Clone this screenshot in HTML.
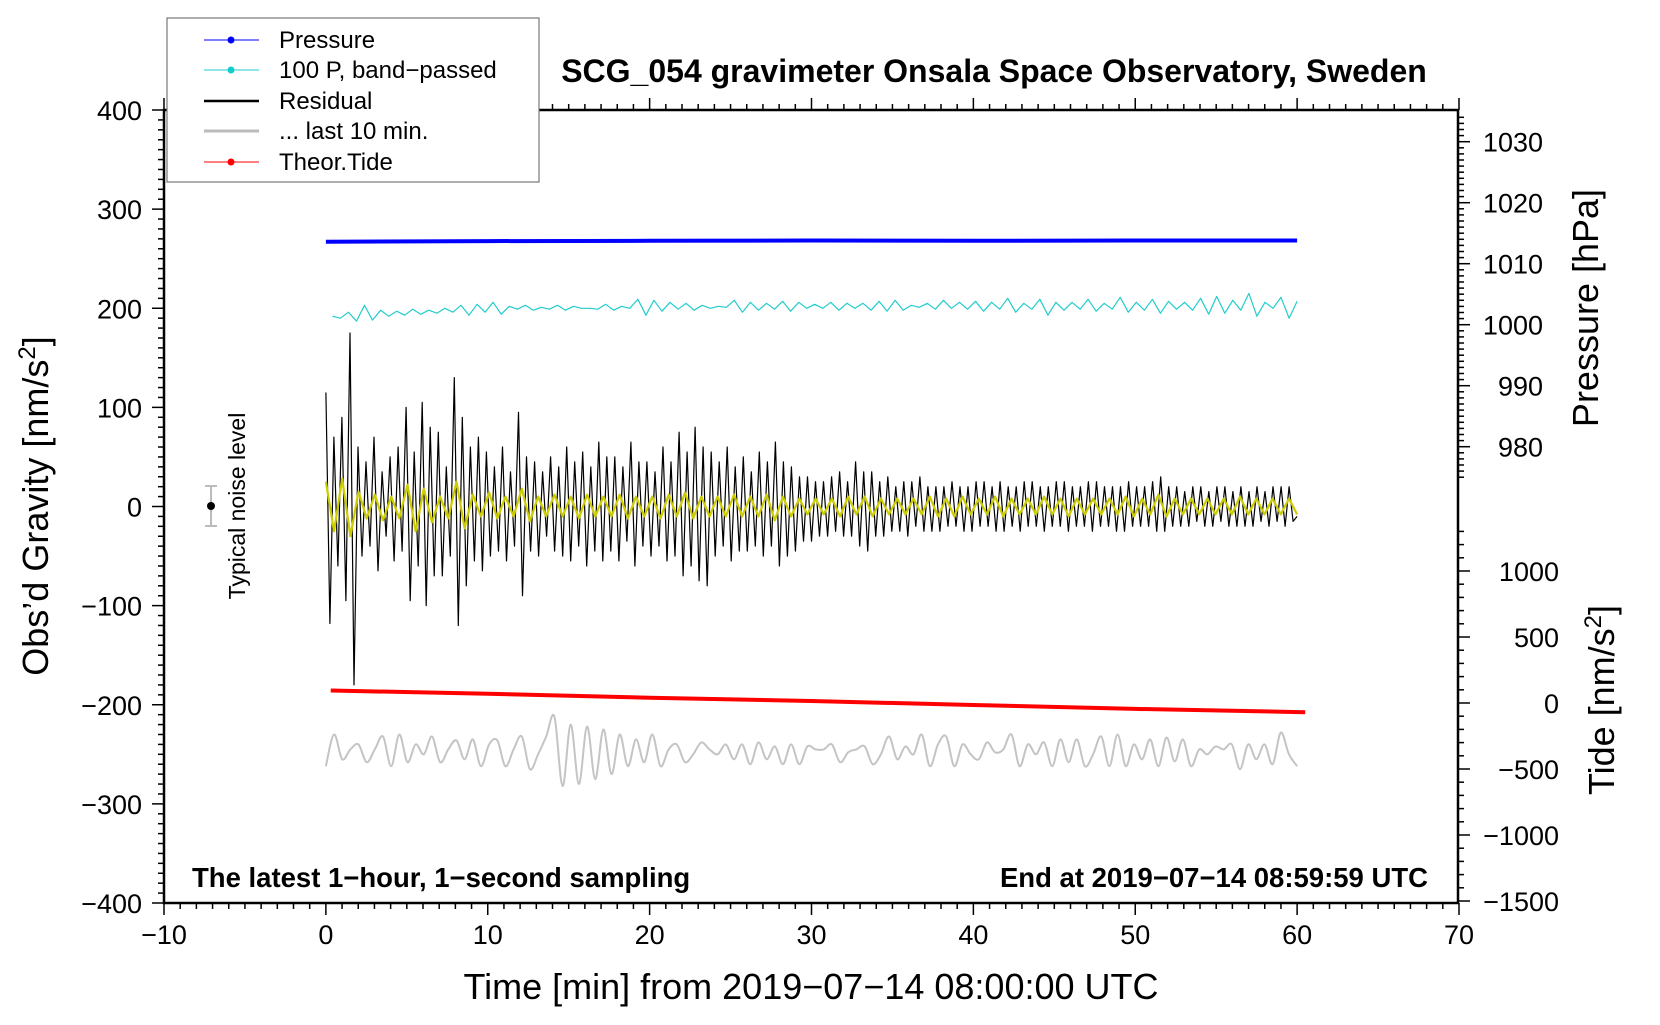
<!DOCTYPE html>
<html><head><meta charset="utf-8"><style>
html,body{margin:0;padding:0;background:#fff;}
svg text{font-family:"Liberation Sans",sans-serif;}
</style></head><body>
<svg id="chart" width="1660" height="1020" viewBox="0 0 1660 1020">
<g id="axes"></g>
<g id="series"></g>
<text x="994" y="82" font-size="32" font-weight="bold" text-anchor="middle">SCG_054 gravimeter Onsala Space Observatory, Sweden</text>
<text transform="translate(48,506) rotate(-90)" font-size="36" text-anchor="middle">Obs’d Gravity [nm/s<tspan dy="-13" font-size="24">2</tspan><tspan dy="13">]</tspan></text>
<text transform="translate(1598,308) rotate(-90)" font-size="36" text-anchor="middle">Pressure [hPa]</text>
<text transform="translate(1614,700) rotate(-90)" font-size="36" text-anchor="middle">Tide [nm/s<tspan dy="-13" font-size="24">2</tspan><tspan dy="13">]</tspan></text>
<text x="811" y="999" font-size="36" text-anchor="middle">Time [min] from 2019−07−14 08:00:00 UTC</text>
<text x="192" y="887" font-size="27.5" font-weight="bold">The latest 1−hour, 1−second sampling</text>
<text x="1428" y="887" font-size="27.5" font-weight="bold" text-anchor="end">End at 2019−07−14 08:59:59 UTC</text>
<g>
<line x1="211" y1="486" x2="211" y2="526" stroke="#bbb" stroke-width="2"/>
<line x1="205" y1="486" x2="217" y2="486" stroke="#bbb" stroke-width="2"/>
<line x1="205" y1="526" x2="217" y2="526" stroke="#bbb" stroke-width="2"/>
<circle cx="211" cy="506" r="4" fill="#000"/>
<text transform="translate(245,506) rotate(-90)" font-size="23" text-anchor="middle">Typical noise level</text>
</g>
<g>
<rect x="167" y="18" width="372" height="164" fill="#fff" stroke="#777" stroke-width="1.2"/>
<g><line x1="204" y1="40" x2="259" y2="40" stroke="#00f" stroke-width="1"/><circle cx="231" cy="40" r="3.5" fill="#00f"/><text x="279" y="48" font-size="24">Pressure</text></g>
<g><line x1="204" y1="70" x2="259" y2="70" stroke="#2cc" stroke-width="1"/><circle cx="231" cy="70" r="3.5" fill="#1cc"/><text x="279" y="78" font-size="24">100 P, band−passed</text></g>
<g><line x1="204" y1="101" x2="259" y2="101" stroke="#000" stroke-width="2.5"/><text x="279" y="109" font-size="24">Residual</text></g>
<g><line x1="204" y1="131" x2="259" y2="131" stroke="#bbb" stroke-width="3"/><text x="279" y="139" font-size="24">... last 10 min.</text></g>
<g><line x1="204" y1="162" x2="259" y2="162" stroke="#f00" stroke-width="1"/><circle cx="231" cy="162" r="3.5" fill="#f00"/><text x="279" y="170" font-size="24">Theor.Tide</text></g>
</g>
</svg>
<script>
// ---- data ----
const xTicks=[-10,0,10,20,30,40,50,60,70];
const yTicks=[400,300,200,100,0,-100,-200,-300,-400];
const pTicks=[1030,1020,1010,1000,990,980];
const tTicks=[1000,500,0,-500,-1000,-1500];
// residual: 4 samples per minute (nm/s^2)
const residual=[115,-118,70,-60,90,-95,175,-180,60,-50,45,-40,70,-65,35,-30,50,-55,60,-45,100,-95,55,-60,105,-100,80,-70,75,-70,40,-50,130,-120,90,-80,60,-55,70,-65,55,-50,40,-45,60,-55,35,-40,95,-90,50,-45,45,-50,35,-30,50,-45,40,-50,60,-55,45,-40,55,-60,40,-45,65,-55,50,-45,50,-55,40,-35,65,-60,45,-40,45,-50,35,-40,60,-55,45,-50,75,-70,55,-60,80,-75,60,-80,55,-50,45,-40,60,-55,40,-45,50,-45,35,-40,55,-50,45,-40,65,-60,45,-50,40,-45,30,-35,30,-35,25,-30,25,-30,30,-25,35,-30,25,-30,45,-40,35,-45,35,-30,25,-30,30,-25,20,-25,25,-30,25,-20,30,-25,20,-25,20,-25,20,-20,25,-20,20,-25,20,-25,25,-20,25,-20,20,-25,25,-25,20,-20,20,-25,25,-20,25,-20,20,-25,20,-20,25,-20,25,-25,20,-20,20,-20,25,-25,25,-20,20,-20,20,-25,20,-25,25,-20,20,-20,20,-20,25,-25,30,-25,20,-20,20,-20,15,-20,20,-15,20,-20,15,-20,20,-15,20,-20,15,-20,20,-20,15,-20,20,-15,15,-20,20,-15,20,-20,20,-15,-10];
// yellow filtered residual: 2 samples per minute
const filtered=[25,-25,28,-30,15,-12,12,-14,10,-12,22,-25,18,-16,10,-12,25,-22,12,-10,14,-12,10,-10,18,-15,10,-10,12,-10,10,-12,12,-10,10,-10,12,-12,10,-10,10,-12,12,-10,14,-12,10,-10,10,-10,12,-10,10,-10,12,-14,10,-10,8,-8,8,-8,8,-10,10,-8,10,-10,8,-8,8,-8,8,-8,10,-10,8,-10,10,-8,8,-8,10,-10,8,-8,8,-8,10,-8,8,-10,8,-8,8,-8,8,-8,10,-10,8,-8,12,-10,8,-8,8,-8,8,-8,8,-8,10,-8,8,-8,8,-8,8,-8];
// 100 P band-passed (plotted on gravity axis), 2 samples per minute
const bandPassed=[192,190,196,187,203,188,198,192,197,193,199,194,198,195,200,196,203,193,204,196,206,194,202,199,203,198,201,199,203,198,202,200,200,199,204,198,202,200,209,193,208,197,206,199,205,198,203,200,202,201,208,196,206,198,205,199,207,197,206,200,204,200,206,198,205,200,205,198,207,197,208,198,203,201,205,199,208,200,206,199,207,197,206,199,210,196,205,199,209,193,206,198,206,199,209,197,205,199,211,196,206,198,209,195,207,199,206,198,210,194,212,195,208,198,215,192,206,200,211,190,207];
// pressure [hPa]
const pressTime=[0,10,20,30,40,50,60];
const pressure=[1013.6,1013.7,1013.75,1013.8,1013.75,1013.8,1013.8];
// theoretical tide [nm/s^2]
const tideTime=[0.3,10,20,30,40,50,60.5];
const tide=[95,70,40,15,-15,-45,-70];
// last 10 min residual (stretched over 0-60, gravity-axis units), 2 per minute
const last10=[-262,-230,-255,-245,-240,-258,-245,-232,-262,-230,-258,-240,-250,-232,-258,-245,-236,-255,-235,-262,-240,-236,-262,-245,-232,-265,-250,-232,-212,-282,-220,-280,-222,-275,-225,-270,-230,-262,-235,-258,-230,-262,-245,-240,-258,-250,-238,-245,-250,-240,-255,-240,-260,-238,-255,-242,-260,-240,-260,-242,-245,-245,-240,-258,-248,-245,-242,-260,-250,-232,-255,-242,-250,-230,-262,-240,-232,-262,-240,-250,-255,-238,-248,-245,-230,-262,-240,-250,-238,-262,-235,-258,-235,-262,-250,-232,-262,-230,-262,-240,-255,-235,-262,-233,-257,-235,-262,-245,-250,-242,-245,-240,-265,-240,-255,-240,-260,-228,-250,-262];
// ---- scales ----
const X=t=>164+(t+10)*16.1875;
const Y=g=>506.5-g*0.99125;
const P=h=>141.7+(1030-h)*6.1;
const T=v=>703-v*0.132;
const NS='http://www.w3.org/2000/svg';
function mk(tag,attrs,parent){const e=document.createElementNS(NS,tag);for(const k in attrs)e.setAttribute(k,attrs[k]);parent.appendChild(e);return e;}
const ax=document.getElementById('axes'), se=document.getElementById('series');
let fr=mk('rect',{x:164,y:110,width:1294,height:793,fill:'none',stroke:'#000','stroke-width':2.5},ax);


for(let t=-10;t<=70;t++){const major=t%10===0;const x=X(t);
 mk('line',{x1:x,y1:903,x2:x,y2:903+(major?12:6),stroke:'#000','stroke-width':1.5},ax);
 mk('line',{x1:x,y1:110,x2:x,y2:110-(major?12:6),stroke:'#000','stroke-width':1.5},ax);}
xTicks.forEach(t=>{const e=mk('text',{x:X(t),y:944,'font-size':27,'text-anchor':'middle'},ax);e.textContent=t<0?'−'+(-t):t;
 
 });
for(let g=-400;g<=400;g+=10){const major=g%100===0;const y=Y(g);
 mk('line',{x1:164,y1:y,x2:164-(major?12:6),y2:y,stroke:'#000','stroke-width':1.5},ax);}
yTicks.forEach(g=>{const e=mk('text',{x:142,y:Y(g)+10,'font-size':27,'text-anchor':'end'},ax);e.textContent=g<0?'−'+(-g):g;
 
 });
for(let h=975;h<=1034;h++){const major=h%10===0;const y=P(h);
 mk('line',{x1:1458,y1:y,x2:1458+(major?12:6),y2:y,stroke:'#000','stroke-width':1.5},ax);}
pTicks.forEach(h=>{const e=mk('text',{x:1543,y:P(h)+10,'font-size':27,'text-anchor':'end'},ax);e.textContent=h;
 
 });
for(let v=-1500;v<=1300;v+=100){const major=v%500===0;const y=T(v);
 mk('line',{x1:1458,y1:y,x2:1458+(major?12:6),y2:y,stroke:'#000','stroke-width':1.5},ax);}
tTicks.forEach(v=>{const e=mk('text',{x:1559,y:T(v)+10,'font-size':27,'text-anchor':'end'},ax);e.textContent=v<0?'−'+(-v):v;
 
 });
function poly(pts,color,w,name){const e=mk('polyline',{points:pts.map(p=>p[0].toFixed(1)+','+p[1].toFixed(1)).join(' '),fill:'none',stroke:color,'stroke-width':w,'stroke-linejoin':'round'},se);
 
 }
function smooth(pts,color,w,name){let d='M'+pts[0][0].toFixed(1)+','+pts[0][1].toFixed(1);
 for(let i=0;i<pts.length-1;i++){const p0=pts[Math.max(0,i-1)],p1=pts[i],p2=pts[i+1],p3=pts[Math.min(pts.length-1,i+2)];
  const c1=[p1[0]+(p2[0]-p0[0])/6,p1[1]+(p2[1]-p0[1])/6],c2=[p2[0]-(p3[0]-p1[0])/6,p2[1]-(p3[1]-p1[1])/6];
  d+=' C'+c1[0].toFixed(1)+','+c1[1].toFixed(1)+' '+c2[0].toFixed(1)+','+c2[1].toFixed(1)+' '+p2[0].toFixed(1)+','+p2[1].toFixed(1);}
 const e=mk('path',{d:d,fill:'none',stroke:color,'stroke-width':w},se);
 
 }
smooth(last10.map((v,i)=>[X(i*60/(last10.length-1)),Y(v)]),'#c4c4c4',2,'last-10-min-line');
poly(pressure.map((v,i)=>[X(pressTime[i]),P(v)]),'#0000ff',4,'pressure-line');
poly(bandPassed.map((v,i)=>[X(0.4+i*59.6/(bandPassed.length-1)),Y(v)]),'#22cccc',1.2,'band-passed-pressure-line');
poly(residual.map((v,i)=>[X(i*60/(residual.length-1)),Y(v)]),'#000',1.2,'residual-line');
poly(filtered.map((v,i)=>[X(i*60/(filtered.length-1)),Y(v)]),'#cccc00',2.2,'filtered-residual-line');
poly(tide.map((v,i)=>[X(tideTime[i]),T(v)]),'#ff0000',4,'theor-tide-line');
</script>
</body></html>
